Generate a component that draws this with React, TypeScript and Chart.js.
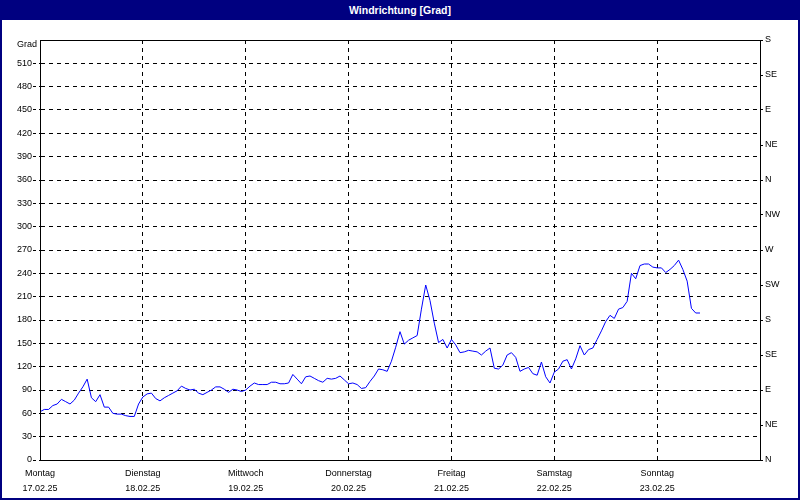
import React, { useEffect, useRef } from 'react';
import { Chart, registerables } from 'chart.js';

Chart.register(...registerables);

const TITLE = 'Windrichtung [Grad]';
const Y_UNIT = 'Grad';
const DAY_NAMES = ['Montag', 'Dienstag', 'Mittwoch', 'Donnerstag', 'Freitag', 'Samstag', 'Sonntag'];
const DAY_DATES = ['17.02.25', '18.02.25', '19.02.25', '20.02.25', '21.02.25', '22.02.25', '23.02.25'];
const COMPASS = ['N', 'NE', 'E', 'SE', 'S', 'SW', 'W', 'NW', 'N', 'NE', 'E', 'SE', 'S'];

// hourly wind direction in degrees, from Monday 00:00
const DIRECTION_DEG = [
  62, 65, 65, 70, 72, 78, 75, 72, 77, 86, 94, 104, 80, 75, 84, 68, 68, 60, 59, 59, 57, 56, 56, 72,
  81, 85, 86, 79, 76, 80, 83, 86, 89, 95, 92, 90, 91, 86, 84, 87, 90, 94, 94, 91, 87, 91, 90, 88,
  90, 95, 99, 97, 97, 97, 100, 100, 98, 98, 99, 110, 104, 98, 107, 108, 105, 102, 100, 105, 104, 105, 108, 103,
  98, 99, 97, 92, 93, 101, 108, 117, 116, 114, 127, 145, 165, 149, 154, 157, 160, 194, 225, 205, 176, 151, 155, 144,
  155, 148, 138, 139, 141, 140, 139, 135, 140, 144, 118, 117, 122, 135, 138, 132, 114, 117, 119, 111, 109, 126, 107, 99,
  113, 117, 127, 129, 117, 130, 147, 135, 142, 144, 155, 166, 178, 186, 182, 194, 196, 204, 240, 233, 250, 252, 252, 248,
  247, 247, 241, 245, 250, 257, 245, 230, 195, 189, 189,
];

const FONT = "'Liberation Sans', Arial, sans-serif";
const NAVY = '#000080';

export default function App() {
  const ref = useRef<HTMLCanvasElement>(null);

  useEffect(() => {
    if (!ref.current) return;
    const frame = {
      id: 'frame',
      afterDraw(chart: any) {
        const { ctx, chartArea } = chart;
        ctx.save();
        ctx.setLineDash([]);
        ctx.strokeStyle = '#000';
        ctx.lineWidth = 1;
        const l = Math.round(chartArea.left) + 0.5;
        const t = Math.round(chartArea.top) + 0.5;
        const r = Math.round(chartArea.right) + 0.5;
        const b = Math.round(chartArea.bottom) + 0.5;
        ctx.strokeRect(l, t, r - l, b - t);
        ctx.fillStyle = '#000';
        ctx.font = `9px ${FONT}`;
        ctx.textAlign = 'right';
        ctx.textBaseline = 'middle';
        ctx.fillText(Y_UNIT, chartArea.left - 3, chartArea.top + 5);
        ctx.restore();
      },
    };

    const chart = new Chart(ref.current, {
      type: 'line',
      data: {
        datasets: [
          {
            data: DIRECTION_DEG.map((v, i) => ({ x: i, y: v })),
            borderColor: '#0000FF',
            borderWidth: 1,
            pointRadius: 0,
            tension: 0,
            fill: false,
          },
        ],
      },
      options: {
        responsive: false,
        animation: false,
        layout: { padding: { top: 40, left: 0, right: 0, bottom: 0 } },
        plugins: { legend: { display: false }, tooltip: { enabled: false }, title: { display: false } },
        scales: {
          x: {
            type: 'linear',
            min: 0,
            max: 168,
            afterFit: (s: any) => { s.height = 40; },
            ticks: {
              stepSize: 24,
              autoSkip: false,
              maxRotation: 0,
              padding: 6,
              color: '#000',
              font: { family: FONT, size: 9, lineHeight: '15px' } as any,
              callback: (v: any) => {
                const d = Math.round(Number(v) / 24);
                if (d < 0 || d >= DAY_NAMES.length) return '';
                return [DAY_NAMES[d], DAY_DATES[d]];
              },
            },
            grid: { color: '#000', lineWidth: 1, drawTicks: false },
            border: { display: true, color: '#000', dash: [4, 4] },
          },
          y: {
            position: 'left',
            min: 0,
            max: 540,
            afterFit: (s: any) => { s.width = 40; },
            ticks: {
              stepSize: 30,
              autoSkip: false,
              padding: 1,
              color: '#000',
              font: { family: FONT, size: 9 },
              callback: (v: any) => (Number(v) >= 540 ? '' : String(v)),
            },
            grid: {
              color: (c: any) => (c.tick && c.tick.value >= 540 ? 'rgba(0,0,0,0)' : '#000'),
              tickColor: (c: any) => (c.tick && c.tick.value >= 540 ? 'rgba(0,0,0,0)' : '#000'),
              lineWidth: 1,
              tickLength: 7,
              tickBorderDash: [3, 3],
            },
            border: { display: true, color: '#000', dash: [4, 4] },
          },
          y2: {
            position: 'right',
            min: 0,
            max: 540,
            afterFit: (s: any) => { s.width = 40; },
            ticks: {
              stepSize: 45,
              autoSkip: false,
              padding: 2,
              color: '#000',
              font: { family: FONT, size: 9 },
              callback: (v: any) => COMPASS[Math.round(Number(v) / 45)] ?? '',
            },
            grid: { drawOnChartArea: false, color: '#000', tickLength: 3, lineWidth: 1 },
            border: { display: true, color: '#000' },
          },
        },
      },
      plugins: [frame],
    } as any);

    return () => chart.destroy();
  }, []);

  return (
    <div style={{ position: 'fixed', left: 0, top: 0, width: 800, height: 500, background: '#fff', overflow: 'hidden' }}>
      <div
        style={{
          position: 'absolute', left: 0, top: 0, width: 800, height: 20, background: NAVY, color: '#fff',
          fontFamily: FONT, fontWeight: 'bold', fontSize: '10.5px', lineHeight: '20px', textAlign: 'center',
        }}
      >
        {TITLE}
      </div>
      <canvas ref={ref} width={800} height={500} style={{ position: 'absolute', left: 0, top: 0, width: 800, height: 500 }} />
      <div
        style={{
          position: 'absolute', left: 0, top: 0, width: 800, height: 500, boxSizing: 'border-box',
          border: `2px solid ${NAVY}`, pointerEvents: 'none',
        }}
      />
    </div>
  );
}
